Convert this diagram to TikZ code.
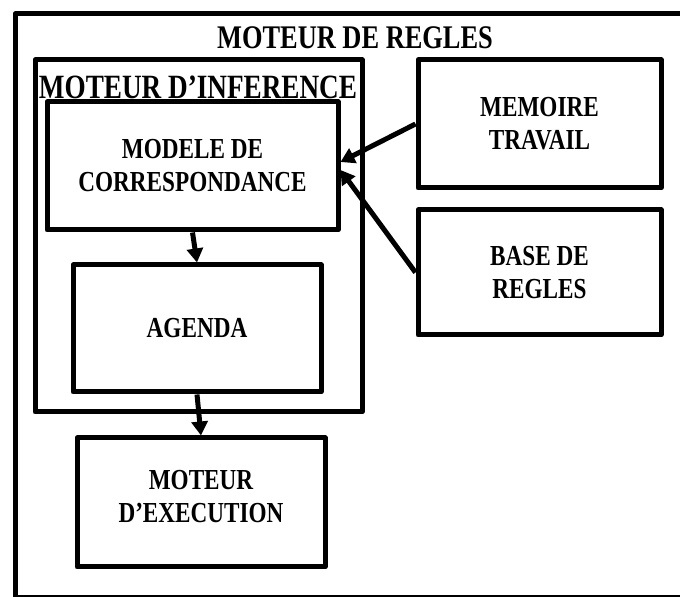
\documentclass[tikz,border=0pt]{standalone}
\usepackage{fontspec}
\setmainfont{Liberation Serif}[FakeStretch=0.8]
\usetikzlibrary{arrows.meta,positioning}

\begin{document}
\begin{tikzpicture}[x=1pt,y=1pt,
  boite/.style={draw,line width=5pt,line join=round,align=center,font=\fontsize{29}{33}\selectfont\bfseries},
  titre/.style={font=\fontsize{33}{36}\selectfont\bfseries},
  fleche/.style={line width=5pt,-{Triangle[length=14pt,width=16pt]}}]
  \clip (0,0) rectangle (680,597);
  \node[boite,minimum width=685pt,minimum height=584pt] (regles) at (357.5,291) {};
  \node[titre] (tregles) at (355,559) {MOTEUR DE REGLES};
  \node[boite,minimum width=327pt,minimum height=352pt] (infer) at (198.5,361) {};
  \node[titre,font=\fontsize{34}{36}\selectfont\bfseries] (tinfer) at (198,510) {MOTEUR D’INFERENCE};
  \node[boite,minimum width=291pt,minimum height=128pt] (modele) at (192.5,431) {MODELE DE\\CORRESPONDANCE};
  \node[boite,minimum width=248pt,minimum height=127pt] (agenda) at (197,268.5) {AGENDA};
  \node[boite,minimum width=248pt,minimum height=129pt,text depth=12pt] (exec) at (201,94.5) {MOTEUR\\D’EXECUTION};
  \node[boite,minimum width=243pt,minimum height=128pt] (memoire) at (539.5,473) {MEMOIRE\\TRAVAIL};
  \node[boite,minimum width=243pt,minimum height=125pt] (base) at (539.5,324.5) {BASE DE\\REGLES};
  \draw[fleche] (memoire.west) -- ([yshift=4pt]modele.east);
  \draw[fleche] (base.west) -- ([yshift=-4pt]modele.east);
  \draw[fleche] (modele.south) -- (agenda.north);
  \draw[fleche] (agenda.south) -- (exec.north);
\end{tikzpicture}
\end{document}
